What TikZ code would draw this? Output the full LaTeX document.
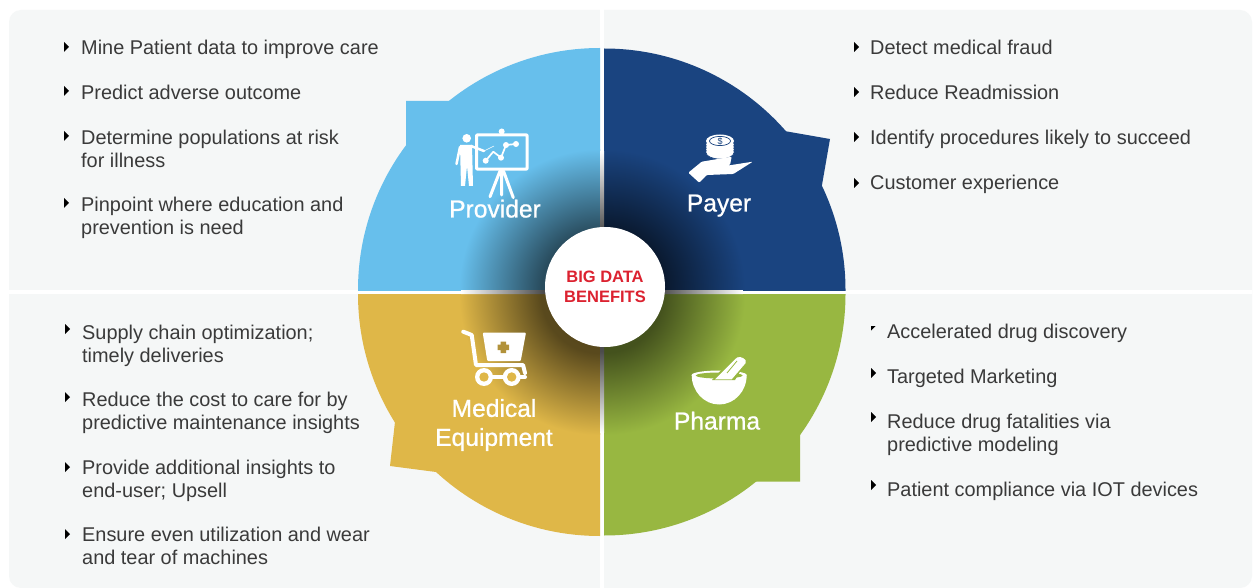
\documentclass[tikz,border=0pt]{standalone}
\usepackage{fontspec}
\setmainfont{Liberation Sans}
\newfontfamily\labelfont[FakeBold=0.8]{Liberation Sans}
\usetikzlibrary{positioning}

\definecolor{panelgrey}{HTML}{F5F7F7}
\definecolor{providerblue}{HTML}{67BFEC}
\definecolor{payernavy}{HTML}{1A4480}
\definecolor{equipgold}{HTML}{DFB748}
\definecolor{pharmagreen}{HTML}{98B741}
\definecolor{itemgrey}{HTML}{3A3A3A}
\definecolor{titlered}{HTML}{DC2230}

\pgfdeclareradialshading{providerglow}{\pgfpoint{0bp}{0bp}}{color(0bp)=(black!65!providerblue); color(10.5bp)=(black!60!providerblue); color(25bp)=(providerblue); color(50bp)=(providerblue)}
\pgfdeclareradialshading{payerglow}{\pgfpoint{0bp}{0bp}}{color(0bp)=(black!70!payernavy); color(10.5bp)=(black!65!payernavy); color(25bp)=(payernavy); color(50bp)=(payernavy)}
\pgfdeclareradialshading{equipglow}{\pgfpoint{0bp}{0bp}}{color(0bp)=(black!65!equipgold); color(10.5bp)=(black!60!equipgold); color(25bp)=(equipgold); color(50bp)=(equipgold)}
\pgfdeclareradialshading{pharmaglow}{\pgfpoint{0bp}{0bp}}{color(0bp)=(black!60!pharmagreen); color(10.5bp)=(black!55!pharmagreen); color(25bp)=(pharmagreen); color(50bp)=(pharmagreen)}
\pgfdeclareradialshading{bandglow}{\pgfpoint{0bp}{0bp}}{color(0bp)=(black!75); color(10.5bp)=(black!70); color(25bp)=(white); color(50bp)=(white)}

\tikzset{
  item/.style={anchor=north west, inner sep=0pt, align=left, text=itemgrey,
    font=\fontsize{19.9}{22.5}\selectfont, execute at begin node=\strut},
  sectorlabel/.style={text=white, align=center, inner sep=0pt,
    font=\labelfont\fontsize{24.6}{29}\selectfont},
  iconline/.style={draw=white, line cap=round, line join=round},
}
\newcommand{\itemmark}[2]{\fill[black] (#1,#2-5) -- ++(5,5) -- ++(-5,5) -- cycle;}

\begin{document}
\begin{tikzpicture}[x=1pt,y=-1pt]
  \useasboundingbox (0,0) rectangle (1256,588);
  \fill[white] (0,0) rectangle (1256,588);

  % Panels
  \fill[panelgrey, rounded corners=12pt] (9,10) rectangle (1252,588);
  \fill[white] (600,0) rectangle (604,588);
  \fill[white] (9,290) rectangle (1252,294);

  % Sectors
  \begin{scope}
    \clip (350,40) rectangle (600,290);
    \fill[providerblue] (600,290) circle[radius=242pt];
  \end{scope}
  \fill[providerblue] (406,101) -- (452,101) -- (460,130) -- (406,148) -- cycle;
  \begin{scope}
    \clip (604,40) rectangle (850,290);
    \fill[payernavy] (604,290) circle[radius=241.5pt];
  \end{scope}
  \fill[payernavy] (784.3,131) -- (830,139) -- (821.7,186.7) -- (770,170) -- cycle;
  \begin{scope}
    \clip (350,294) rectangle (600,540);
    \fill[equipgold] (600,294) circle[radius=242pt];
  \end{scope}
  \fill[equipgold] (395,421.7) -- (390,466) -- (438.3,472.3) -- (450,430) -- cycle;
  \begin{scope}
    \clip (604,294) rectangle (850,540);
    \fill[pharmagreen] (604,294) circle[radius=241.5pt];
  \end{scope}
  \fill[pharmagreen] (800,433.3) -- (800,481.7) -- (754.3,481.7) -- (740,440) -- cycle;

  % Dark glow round the centre
  \begin{scope}
    \clip (600,290) rectangle (460,150);
    \path[shading=providerglow] (600,290) circle[radius=141pt];
  \end{scope}
  \begin{scope}
    \clip (604,290) rectangle (745,150);
    \path[shading=payerglow] (604,290) circle[radius=141pt];
  \end{scope}
  \begin{scope}
    \clip (600,294) rectangle (460,434);
    \path[shading=equipglow] (600,294) circle[radius=141pt];
  \end{scope}
  \begin{scope}
    \clip (604,294) rectangle (745,434);
    \path[shading=pharmaglow] (604,294) circle[radius=141pt];
  \end{scope}
  \begin{scope}
    \clip (600,150) rectangle (604,434) (460,290) rectangle (745,294);
    \path[shading=bandglow] (602,292) circle[radius=141pt];
  \end{scope}

  % Provider icon
  \fill[white] (466.7,138.3) circle[radius=4.3pt];
  \fill[white] (460,145) -- (472,145) -- (473,186) -- (469,186) -- (467,166) -- (465,186) -- (461,186) -- cycle;
  \draw[iconline, line width=2.5pt] (460,147) -- (456.5,164);
  \draw[iconline, line width=2.5pt] (471,146) -- (484,151);
  \draw[white, line width=0.5pt] (484,151) -- (494,146);
  \draw[iconline, line width=3pt, rounded corners=1pt] (476.5,134.8) rectangle (527.2,169.2);
  \fill[white] (501.7,131.5) circle[radius=3pt];
  \draw[iconline, line width=3pt] (500,171) -- (490,196.7) (501.7,171) -- (501.7,195) (503.5,171) -- (513.3,197.7);
  \draw[iconline, line width=1.7pt] (485.7,160.7) -- (493.3,151.7) -- (501,157.7) -- (506,145) -- (516,144);
  \foreach \px/\py in {485.7/160.7, 501/157.7, 506/145, 516/144}
    \fill[white] (\px,\py) circle[radius=3pt];

  % Payer icon
  \foreach \py in {148,150.5,153,155.5} {
    \fill[white] (720,\py-3) ellipse[x radius=14pt, y radius=6.5pt];
    \draw[payernavy, line width=0.6pt] (706,\py-3) arc[start angle=180, end angle=360, x radius=14pt, y radius=6.5pt];
  }
  \fill[white] (720,141) ellipse[x radius=14pt, y radius=6.5pt];
  \draw[payernavy, line width=0.7pt] (720,141) ellipse[x radius=10.5pt, y radius=4.6pt];
  \node[inner sep=0pt, text=payernavy, font=\fontsize{9}{9}\selectfont] (coin) at (720,141) {\$};
  \fill[white, rounded corners=1pt] (688.3,172.7) -- (701.7,161.7) -- (731.7,156.7) -- (730,165) -- (716.7,167.3)
    -- (752.7,161.7) -- (733.3,174) -- (706.7,175) -- (699.3,182.7) -- cycle;

  % Equipment icon
  \draw[iconline, line width=4pt] (463.3,331.7) -- (471.7,335) -- (476,365) -- (523,365) -- (525,373);
  \fill[white, rounded corners=1pt] (482.7,332.7) -- (526,332.7) -- (520.7,361) -- (487.3,361) -- cycle;
  \fill[equipgold!80!black] (500.5,341.5) rectangle (506,353) (497.5,344.5) rectangle (509,350);
  \draw[iconline, line width=4pt] (484,377) -- (525,377);
  \foreach \px in {484,511.7} {
    \fill[white] (\px,377) circle[radius=9pt];
    \fill[equipgold] (\px,377) circle[radius=4.7pt];
  }

  % Pharma icon
  \fill[white] (691.7,375) arc[start angle=180, end angle=360, x radius=27.5pt, y radius=29.5pt] -- cycle;
  \fill[white] (719.2,375) ellipse[x radius=27.5pt, y radius=4.5pt];
  \fill[pharmagreen] (719.2,375.5) ellipse[x radius=23.5pt, y radius=3pt];
  \fill[pharmagreen] (712,380) -- (737,353) -- (747,360) -- (735,380) -- cycle;
  \fill[white] (715,379.3) -- (737,357.5) to[out=30, in=60] (745.7,363) -- (731.7,379.3) -- cycle;
  \draw[pharmagreen, line width=0.8pt] (727,373) -- (737,361);

  % Sector names
  \node[sectorlabel, anchor=base] (provider) at (495,217.5) {Provider};
  \node[sectorlabel, anchor=base] (payer) at (719,211.5) {Payer};
  \node[sectorlabel] (equipment) at (494,425) {Medical\\Equipment};
  \node[sectorlabel, anchor=base] (pharma) at (717,429.5) {Pharma};

  % Centre
  \node[circle, fill=white, minimum size=120pt, inner sep=0pt, align=center, text=titlered,
    font=\bfseries\fontsize{16.5}{21}\selectfont] (benefits) at (605,287) {BIG DATA\\[-0.5pt]BENEFITS};

  % Provider items
  \itemmark{64}{47} \itemmark{64}{91} \itemmark{64}{136} \itemmark{64}{203}
  \node[item] (mine) at (81,39) {Mine Patient data to improve care};
  \node[item] (predict) at (81,84) {Predict adverse outcome};
  \node[item] (populations) at (81,130) {Determine populations at risk\\for illness};
  \node[item] (pinpoint) at (81,197) {Pinpoint where education and\\prevention is need};

  % Payer items
  \itemmark{854}{47} \itemmark{854}{92} \itemmark{854}{137} \itemmark{854}{183}
  \node[item] (fraud) at (870,39) {Detect medical fraud};
  \node[item] (readmission) at (870,84) {Reduce Readmission};
  \node[item] (procedures) at (870,129) {Identify procedures likely to succeed};
  \node[item] (experience) at (870,174) {Customer experience};

  % Equipment items
  \itemmark{65}{329} \itemmark{65}{397} \itemmark{65}{467} \itemmark{65}{534}
  \node[item] (supply) at (82,325) {Supply chain optimization;\\timely deliveries};
  \node[item] (cost) at (82,392) {Reduce the cost to care for by\\predictive maintenance insights};
  \node[item] (insights) at (82,460) {Provide additional insights to\\end-user; Upsell};
  \node[item] (wear) at (82,527) {Ensure even utilization and wear\\and tear of machines};

  % Pharma items
  \itemmark{871}{373} \itemmark{871}{417} \itemmark{871}{485}
  \fill[black] (871,326) -- (875.7,326) -- (871,330.7) -- cycle;
  \node[item] (discovery) at (887,323) {Accelerated drug discovery};
  \node[item] (marketing) at (887,368) {Targeted Marketing};
  \node[item] (fatalities) at (887,414) {Reduce drug fatalities via\\predictive modeling};
  \node[item] (compliance) at (887,481) {Patient compliance via IOT devices};
\end{tikzpicture}
\end{document}
